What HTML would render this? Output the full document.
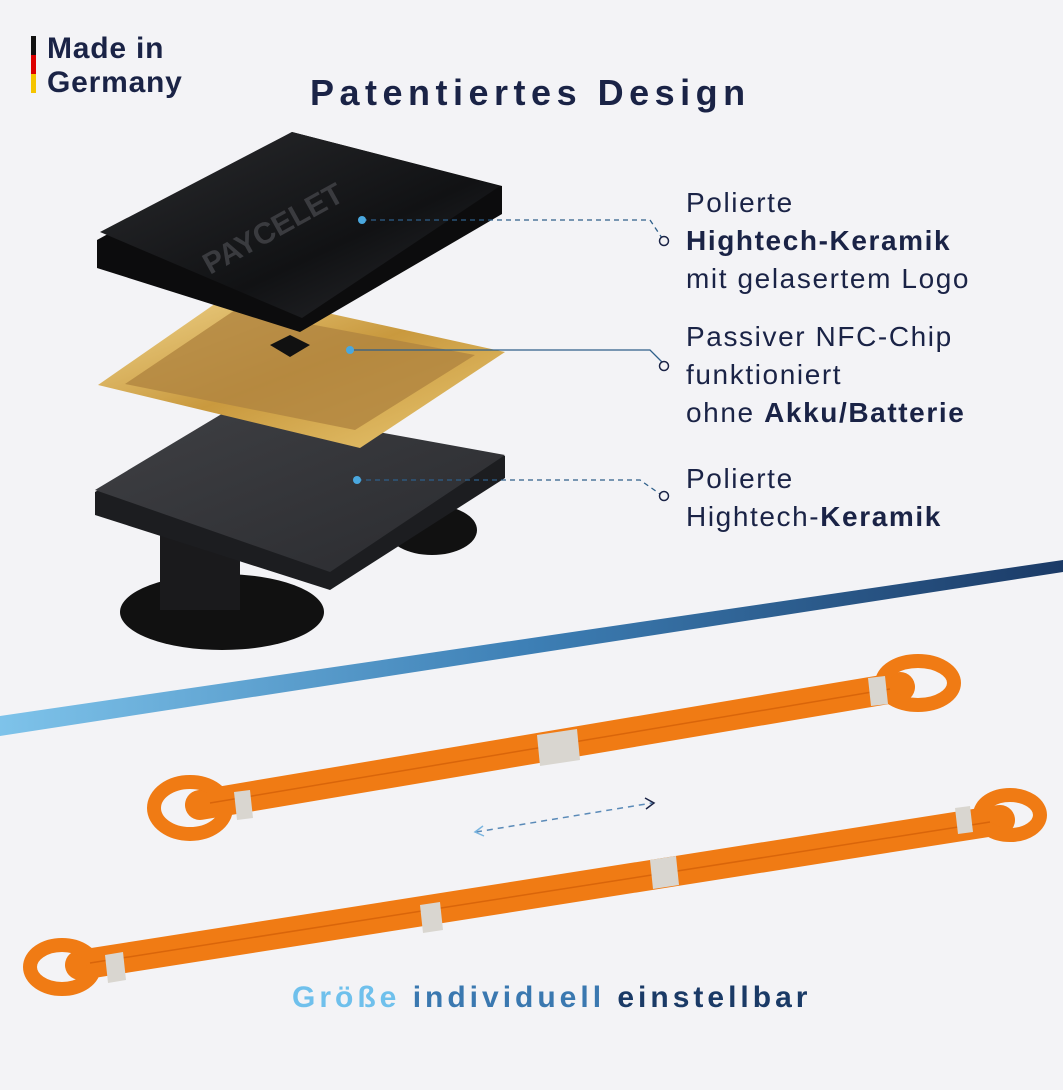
<!DOCTYPE html>
<html><head><meta charset="utf-8">
<style>
html,body{margin:0;padding:0;background:#f3f3f6;}
body{width:1063px;height:1090px;position:relative;overflow:hidden;font-family:"Liberation Sans",sans-serif;}
.t{position:absolute;white-space:nowrap;}
</style></head><body>
<svg width="1063" height="1090" style="position:absolute;left:0;top:0">
<defs>
<linearGradient id="dg" x1="0" y1="0" x2="1" y2="0"><stop offset="0" stop-color="#7ec3ea"/><stop offset="0.5" stop-color="#3d7fb5"/><stop offset="1" stop-color="#1b3a66"/></linearGradient>
<linearGradient id="gold" x1="0" y1="0" x2="1" y2="1"><stop offset="0" stop-color="#f2d890"/><stop offset="0.5" stop-color="#c9993e"/><stop offset="1" stop-color="#e9c873"/></linearGradient>
<linearGradient id="topg" x1="0" y1="0" x2="1" y2="1"><stop offset="0" stop-color="#2a2b2e"/><stop offset="0.6" stop-color="#111214"/><stop offset="1" stop-color="#2b2c30"/></linearGradient>
<linearGradient id="botg" x1="0" y1="0" x2="1" y2="1"><stop offset="0" stop-color="#3f4044"/><stop offset="1" stop-color="#2a2b2f"/></linearGradient>
</defs>
<polygon points="0,716 1063,560 1063,572 0,736" fill="url(#dg)"/>
<!-- feet -->
<ellipse cx="222" cy="612" rx="102" ry="38" fill="#111" />
<ellipse cx="432" cy="530" rx="45" ry="25" fill="#111"/>
<rect x="160" y="530" width="80" height="80" fill="#1a1a1c"/>
<!-- bottom tile -->
<polygon points="95,492 95,515 330,590 505,478 505,456 235,408" fill="#1c1d20"/>
<polygon points="95,490 235,406 505,455 330,572" fill="url(#botg)"/>
<!-- chip -->
<polygon points="98,385 232,292 505,352 360,448" fill="url(#gold)"/>
<polygon points="125,384 235,310 475,355 355,430" fill="#b08440" opacity="0.8"/>
<polygon points="270,345 290,335 310,345 290,357" fill="#111"/>
<!-- top tile -->
<polygon points="97,240 97,268 300,332 502,214 502,186 292,132" fill="#0c0c0d"/>
<polygon points="100,232 292,132 500,186 302,318" fill="url(#topg)"/>
<text x="210" y="275" fill="#3a3b3f" font-size="30" font-weight="bold" transform="rotate(-29 210 275)" font-family="Liberation Sans">PAYCELET</text>
<!-- straps -->
<g stroke="#f07b14" stroke-linecap="round" fill="none">
<line x1="200" y1="805" x2="900" y2="687" stroke-width="30"/>
<ellipse cx="190" cy="808" rx="36" ry="26" stroke-width="14"/>
<ellipse cx="918" cy="683" rx="36" ry="22" stroke-width="14"/>
<line x1="80" y1="965" x2="1000" y2="820" stroke-width="30"/>
<ellipse cx="62" cy="967" rx="32" ry="22" stroke-width="14"/>
<ellipse cx="1010" cy="815" rx="30" ry="20" stroke-width="14"/>
</g>
<g stroke="#d9650a" stroke-width="1.5">
<line x1="210" y1="803" x2="890" y2="689"/>
<line x1="90" y1="963" x2="990" y2="822"/>
</g>
<g fill="#d9d6d0">
<polygon points="537,735 577,729 580,760 540,766"/>
<polygon points="234,792 250,790 253,818 237,820"/>
<polygon points="868,678 885,676 888,704 871,706"/>
<polygon points="650,860 676,856 679,885 653,889"/>
<polygon points="420,905 440,902 443,930 423,933"/>
<polygon points="105,955 123,952 126,980 108,983"/>
<polygon points="955,808 970,806 973,832 958,834"/>
</g>
<!-- connectors -->
<g fill="none" stroke-width="1.3">
<polyline points="362,220 650,220 662,238" stroke="#2e5f8a" stroke-dasharray="5,4"/>
<polyline points="350,350 650,350 662,362" stroke="#2e5f8a"/>
<polyline points="357,480 640,480 660,494" stroke="#2e5f8a" stroke-dasharray="5,4"/>
<line x1="476" y1="832" x2="652" y2="803" stroke="#5a8ab8" stroke-dasharray="6,5" stroke-width="1.5"/>
</g>
<circle cx="362" cy="220" r="4" fill="#4aa8df"/>
<circle cx="350" cy="350" r="4" fill="#4aa8df"/>
<circle cx="357" cy="480" r="4" fill="#4aa8df"/>
<g fill="#f3f3f6" stroke="#1a2346" stroke-width="1.5">
<circle cx="664" cy="241" r="4.5"/><circle cx="664" cy="366" r="4.5"/><circle cx="664" cy="496" r="4.5"/>
</g>
<polyline points="483,826 475,832 484,836" fill="none" stroke="#7ab5e0" stroke-width="1.5"/>
<polyline points="645,798 654,803 646,809" fill="none" stroke="#1a2346" stroke-width="1.5"/>
<!-- flag -->
<rect x="31" y="36" width="5" height="19" fill="#111"/>
<rect x="31" y="55" width="5" height="19" fill="#d00"/>
<rect x="31" y="74" width="5" height="19" fill="#f5c400"/>
</svg>
<div class="t" style="left:47px;top:32px;font-size:30px;font-weight:bold;color:#1a2346;line-height:34px;letter-spacing:0.8px">Made in<br>Germany</div>
<div class="t" style="left:310px;top:72px;font-size:36px;font-weight:bold;color:#1a2346;letter-spacing:5.5px">Patentiertes Design</div>
<div class="t" style="left:686px;top:184px;font-size:28px;color:#1a2346;line-height:38px;letter-spacing:1.6px">Polierte<br><b>Hightech-Keramik</b><br>mit gelasertem Logo</div>
<div class="t" style="left:686px;top:318px;font-size:28px;color:#1a2346;line-height:38px;letter-spacing:1.6px">Passiver NFC-Chip<br>funktioniert<br>ohne <b>Akku/Batterie</b></div>
<div class="t" style="left:686px;top:460px;font-size:28px;color:#1a2346;line-height:38px;letter-spacing:1.6px">Polierte<br>Hightech-<b>Keramik</b></div>
<div class="t" style="left:292px;top:981px;font-size:30px;font-weight:bold;letter-spacing:4px"><span style="color:#6fc0ec">Größe </span><span style="color:#3a78b0">individuell </span><span style="color:#1a3a66">einstellbar</span></div>
</body></html>
